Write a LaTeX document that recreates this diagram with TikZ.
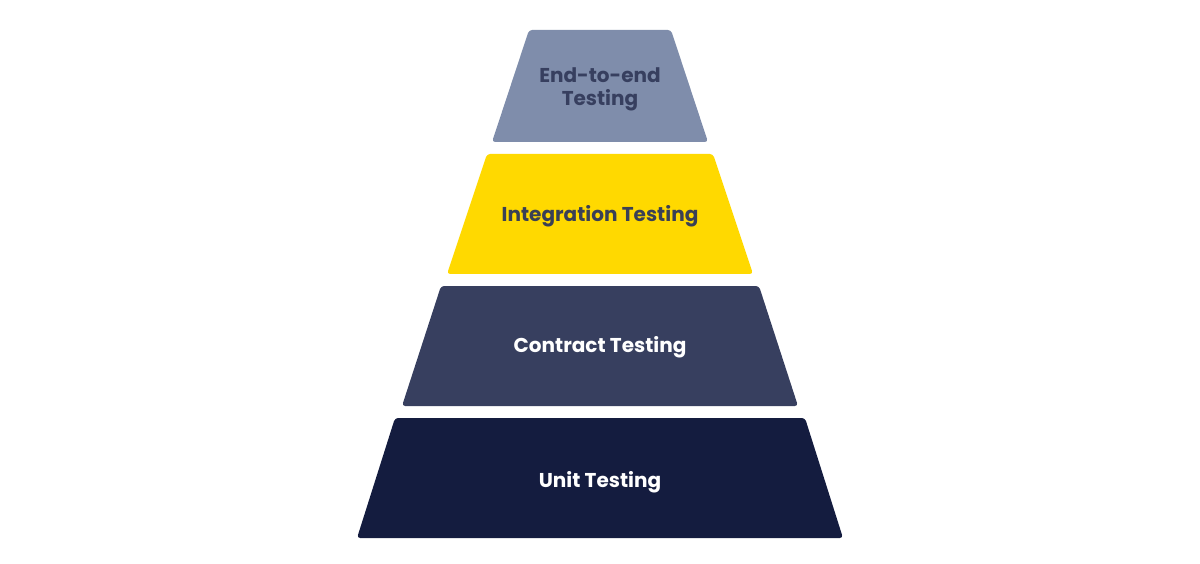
\documentclass[tikz,border=0pt]{standalone}
\usepackage{fontspec}
\setmainfont{Poppins}
\usetikzlibrary{positioning}
\definecolor{slateblue}{HTML}{7F8DAB}
\definecolor{sunny}{HTML}{FFD900}
\definecolor{dusk}{HTML}{373F5F}
\definecolor{midnight}{HTML}{141C3F}
\definecolor{inkgray}{HTML}{3A4055}
\tikzset{
  tier/.style={rounded corners=1.8pt},
  tierlabel/.style={
    align=center,
    font=\fontsize{11.4}{13.2}\selectfont\bfseries
  }
}

\begin{document}
\begin{tikzpicture}[x=0.02cm,y=-0.02cm]
  \useasboundingbox (0,0) rectangle (1200,564);
  % pyramid tiers, top to bottom
  \fill[tier, slateblue] (529,30) -- (671,30) -- (708,142) -- (492,142) -- cycle;
  \fill[tier, sunny]     (487,154) -- (713,154) -- (753,274) -- (447,274) -- cycle;
  \fill[tier, dusk]      (441,286) -- (759,286) -- (798,406) -- (402,406) -- cycle;
  \fill[tier, midnight]  (395,418) -- (805,418) -- (843,538) -- (357,538) -- cycle;

  \node[tierlabel, text=dusk]    (e2e)      at (600,89)  {End-to-end\\Testing};
  \node[tierlabel, text=inkgray] (integr)   at (600,216) {Integration Testing};
  \node[tierlabel, text=white]   (contract) at (600,347) {Contract Testing};
  \node[tierlabel, text=white]   (unit)     at (600,482) {Unit Testing};
\end{tikzpicture}
\end{document}
